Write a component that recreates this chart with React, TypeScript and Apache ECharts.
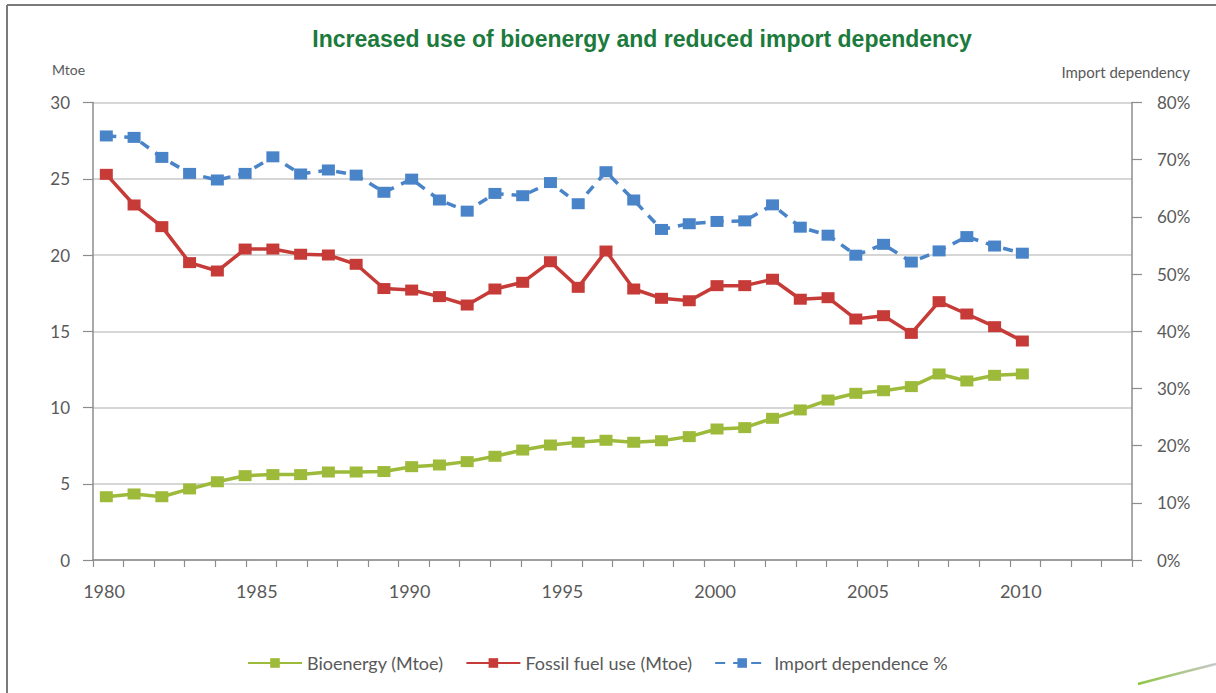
import React, { useEffect, useRef } from "react";
import * as echarts from "echarts";

const tickLabels = ["1980", "1985", "1990", "1995", "2000", "2005", "2010"];

const bioenergy = [
  4.15, 4.33, 4.15, 4.66, 5.13, 5.53, 5.6, 5.6, 5.77, 5.77, 5.8,
  6.12, 6.23, 6.45, 6.8, 7.21, 7.54, 7.72, 7.85, 7.72, 7.82, 8.09, 8.59, 8.68, 9.29, 9.84,
  10.49, 10.93, 11.1, 11.37, 12.2, 11.74, 12.11, 12.2,
];

const fossil = [
  25.29, 23.28, 21.86, 19.5, 18.95, 20.39, 20.39, 20.05, 20.0, 19.39, 17.8,
  17.7, 17.27, 16.72, 17.77, 18.21, 19.56, 17.88, 20.26, 17.77, 17.16, 17.0, 17.99, 17.99, 18.41, 17.1,
  17.2, 15.8, 16.02, 14.86, 16.94, 16.13, 15.3, 14.36,
];

const importDependence = [
  0.7415, 0.739, 0.704, 0.676, 0.6645, 0.676, 0.705, 0.675, 0.682, 0.673, 0.643,
  0.666, 0.6295, 0.61, 0.641, 0.637, 0.66, 0.623, 0.679, 0.6295, 0.578, 0.588, 0.592, 0.593, 0.621, 0.582,
  0.568, 0.533, 0.552, 0.521, 0.5405, 0.5655, 0.549, 0.5365,
];

const seriesNames = ["Bioenergy (Mtoe)", "Fossil fuel use (Mtoe)", "Import dependence %"];

const GREEN = "#9dba3a";
const RED = "#c63b37";
const BLUE = "#4a84c8";
const LABEL = "#595959";
const AXIS = "#8c8c8c";
const FONT = "Lato, 'Open Sans', sans-serif";

export default function App() {
  const ref = useRef<HTMLDivElement>(null);

  useEffect(() => {
    if (!ref.current) return;
    const chart = echarts.init(ref.current, undefined, { renderer: "svg" });
    const idx = (arr: number[]) => arr.map((v, i) => [i, v]);

    chart.setOption({
      animation: false,
      backgroundColor: "#ffffff",
      textStyle: { fontFamily: FONT },
      title: {
        text: "Increased use of bioenergy and reduced import dependency",
        left: 637,
        top: 22,
        textAlign: "center",
        textStyle: {
          fontFamily: "'Liberation Sans', Arial, sans-serif",
          fontWeight: "bold",
          fontSize: 23,
          color: "#1b7a3c",
        },
      },
      legend: {
        data: seriesNames,
        left: 242,
        top: 649,
        itemWidth: 54,
        itemHeight: 12,
        itemGap: 22,
        textStyle: { fontSize: 18, color: LABEL, fontFamily: FONT },
      },
      grid: {
        left: 93,
        right: 84,
        top: 102.5,
        bottom: 133,
        containLabel: false,
        outerBoundsMode: "none",
      },
      xAxis: [
        {
          type: "value",
          min: 1980,
          max: 2014,
          interval: 1,
          position: "bottom",
          axisLine: { show: true, onZero: false, lineStyle: { color: AXIS, width: 1.5 } },
          axisTick: { show: true, length: 7, lineStyle: { color: AXIS, width: 1.2 } },
          splitLine: { show: false },
          axisLabel: {
            formatter: (v: number) => (tickLabels.includes(String(v)) ? String(v) : ""),
            fontSize: 18,
            color: LABEL,
            margin: 22,
            padding: [0, 0, 0, 22],
            fontFamily: FONT,
          },
        },
        {
          type: "value",
          min: -0.48,
          max: 36.95,
          show: false,
          axisLine: { onZero: false },
        },
      ],
      yAxis: [
        {
          type: "value",
          min: 0,
          max: 30,
          interval: 5,
          position: "left",
          axisLine: { show: true, onZero: false, lineStyle: { color: AXIS, width: 1.5 } },
          axisTick: { show: true, length: 10, lineStyle: { color: AXIS, width: 1.2 } },
          splitLine: { show: true, lineStyle: { color: "#c8c8c8", width: 1.5 } },
          axisLabel: { fontSize: 17, color: LABEL, margin: 23, fontFamily: FONT },
        },
        {
          type: "value",
          min: 0,
          max: 0.8,
          interval: 0.1,
          position: "right",
          axisLine: { show: true, onZero: false, lineStyle: { color: AXIS, width: 1.5 } },
          axisTick: { show: true, length: 10, lineStyle: { color: AXIS, width: 1.2 } },
          splitLine: { show: false },
          axisLabel: {
            fontSize: 17,
            color: LABEL,
            margin: 25,
            fontFamily: FONT,
            formatter: (v: number) => `${Math.round(v * 100)}%`,
          },
        },
      ],
      series: [
        {
          name: seriesNames[0],
          type: "line",
          xAxisIndex: 1,
          yAxisIndex: 0,
          data: idx(bioenergy),
          symbol: "rect",
          symbolSize: [13, 11],
          itemStyle: { color: GREEN },
          lineStyle: { color: GREEN, width: 3.5 },
        },
        {
          name: seriesNames[1],
          type: "line",
          xAxisIndex: 1,
          yAxisIndex: 0,
          data: idx(fossil),
          symbol: "rect",
          symbolSize: [13, 11],
          itemStyle: { color: RED },
          lineStyle: { color: RED, width: 3.5 },
        },
        {
          name: seriesNames[2],
          type: "line",
          xAxisIndex: 1,
          yAxisIndex: 1,
          data: idx(importDependence),
          symbol: "rect",
          symbolSize: [13, 11],
          itemStyle: { color: BLUE },
          lineStyle: { color: BLUE, width: 3.5, type: [10, 8] },
        },
      ],
      graphic: [
        {
          type: "text",
          left: 52,
          top: 62,
          style: { text: "Mtoe", fontSize: 14, fill: LABEL, fontFamily: FONT },
        },
        {
          type: "text",
          right: 26,
          top: 64,
          style: { text: "Import dependency", fontSize: 15, fill: LABEL, fontFamily: FONT },
        },
        {
          type: "line",
          shape: { x1: 7, y1: 5, x2: 1216, y2: 5 },
          style: { stroke: "#7a7a7a", lineWidth: 2 },
        },
        {
          type: "line",
          shape: { x1: 7, y1: 5, x2: 7, y2: 693 },
          style: { stroke: "#7a7a7a", lineWidth: 2 },
        },
        {
          type: "bezierCurve",
          shape: { x1: 1138, y1: 684, cpx1: 1172, cpy1: 675, x2: 1216, y2: 664 },
          style: {
            stroke: new echarts.graphic.LinearGradient(0, 0, 1, 0, [
              { offset: 0, color: "#8cc63f" },
              { offset: 1, color: "#c8c8c8" },
            ]),
            lineWidth: 2.5,
            fill: "none",
          },
        },
      ],
    });

    return () => chart.dispose();
  }, []);

  return (
    <div
      ref={ref}
      style={{ position: "fixed", left: 0, top: 0, width: 1216, height: 693, background: "#fff" }}
    />
  );
}
